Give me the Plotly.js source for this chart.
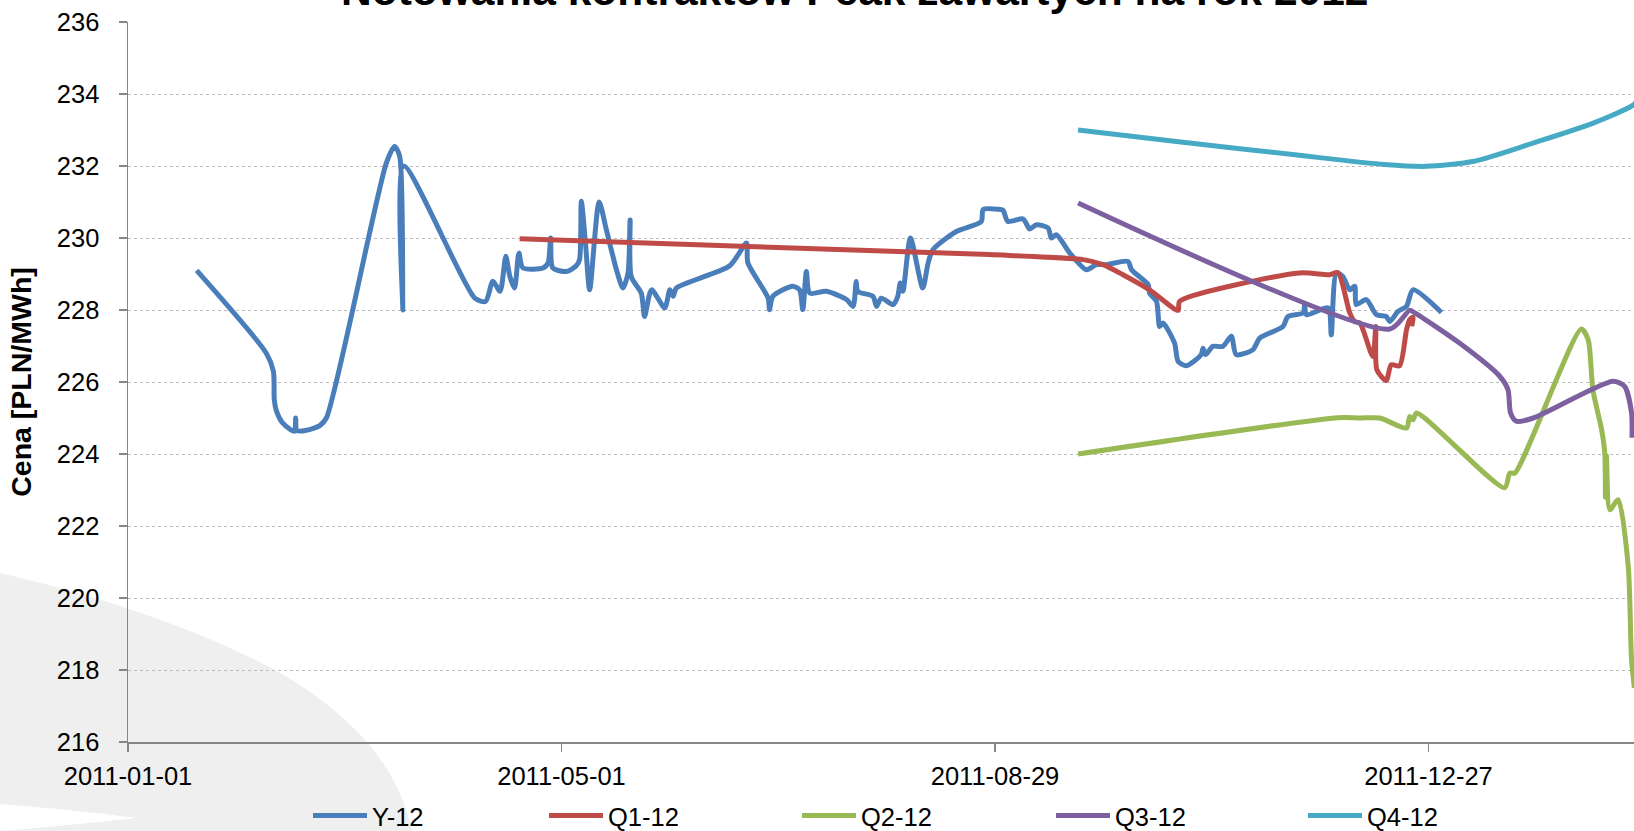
<!DOCTYPE html>
<html>
<head>
<meta charset="utf-8">
<script src="https://cdn.plot.ly/plotly-3.0.1.min.js"></script>
<style>
html,body{margin:0;padding:0;overflow:hidden;background:#ffffff;}
#chart{width:1634px;height:831px;}
</style>
</head>
<body>
<div id="chart"></div>
<script>
// ---------------- DATA ----------------
const chartTitle = 'Notowania kontraktów Peak zawartych na rok 2012';
const yAxisTitle = 'Cena [PLN/MWh]';
const seriesNames = ['Y-12', 'Q1-12', 'Q2-12', 'Q3-12', 'Q4-12'];

const xTickVals = ['2011-01-01', '2011-05-01', '2011-08-29', '2011-12-27'];
const xTickText = ['2011-01-01', '2011-05-01', '2011-08-29', '2011-12-27'];
const yTickVals = [216, 218, 220, 222, 224, 226, 228, 230, 232, 234, 236];

const y12Dates = ['2011-01-20','2011-02-08 07:00','2011-02-10 06:00','2011-02-10 12:00','2011-02-11 02:00','2011-02-12 22:00','2011-02-16 02:00','2011-02-16 10:00','2011-02-16 18:00','2011-02-19 10:00','2011-02-23 02:00','2011-02-24 22:00','2011-03-13 12:00','2011-03-15 19:00','2011-03-17 05:00','2011-03-18 02:00','2011-03-18 07:00','2011-04-07','2011-04-10','2011-04-12','2011-04-14','2011-04-15 14:00','2011-04-16 17:00','2011-04-18','2011-04-19 05:00','2011-04-20 07:00','2011-04-25 22:00','2011-04-27 07:00','2011-04-28','2011-04-28 14:00','2011-05-02 10:00','2011-05-05 02:00','2011-05-06','2011-05-06 12:00','2011-05-07 17:00','2011-05-08 19:00','2011-05-11 10:00','2011-05-13 10:00','2011-05-16 05:00','2011-05-18','2011-05-19 10:00','2011-05-20','2011-05-20 07:00','2011-05-23 02:00','2011-05-24','2011-05-25 22:00','2011-05-29 14:00','2011-05-31','2011-05-31 22:00','2011-06-01 19:00','2011-06-16 14:00','2011-06-21 05:00','2011-06-21 14:00','2011-06-27 05:00','2011-06-27 14:00','2011-06-28 12:00','2011-07-04','2011-07-05 22:00','2011-07-06 19:00','2011-07-07 19:00','2011-07-08 17:00','2011-07-13 07:00','2011-07-18 22:00','2011-07-20 17:00','2011-07-21 14:00','2011-07-22','2011-07-26 05:00','2011-07-27 05:00','2011-07-28 12:00','2011-07-31 19:00','2011-08-02 02:00','2011-08-02 19:00','2011-08-03 12:00','2011-08-05 14:00','2011-08-09','2011-08-10 12:00','2011-08-11 19:00','2011-08-18 07:00','2011-08-25 05:00','2011-08-25 17:00','2011-08-29 19:00','2011-08-31 05:00','2011-09-01 14:00','2011-09-05 19:00','2011-09-07 14:00','2011-09-09 12:00','2011-09-12 17:00','2011-09-13 14:00','2011-09-15','2011-09-18 17:00','2011-09-23 07:00','2011-09-26 02:00','2011-09-28 19:00','2011-10-04 19:00','2011-10-05 19:00','2011-10-10 10:00','2011-10-10 19:00','2011-10-12 17:00','2011-10-13 14:00','2011-10-14 12:00','2011-10-17 17:00','2011-10-18 17:00','2011-10-21','2011-10-25 02:00','2011-10-25 14:00','2011-10-26 07:00','2011-10-28 07:00','2011-10-31 02:00','2011-11-02 10:00','2011-11-03 19:00','2011-11-08 10:00','2011-11-10 07:00','2011-11-16 17:00','2011-11-18 02:00','2011-11-22 07:00','2011-11-22 17:00','2011-11-23 05:00','2011-11-29 05:00','2011-11-30 02:00','2011-12-01 12:00','2011-12-03 07:00','2011-12-05 05:00','2011-12-06 14:00','2011-12-07','2011-12-09 19:00','2011-12-12 14:00','2011-12-15 07:00','2011-12-16 07:00','2011-12-18 14:00','2011-12-20 22:00','2011-12-22 17:00','2011-12-30 14:00'];
const y12Values = [229.1,226.8,226.3,225.5,225.2,224.85,224.63,225.0,224.65,224.66,224.79,225.0,232.08,232.54,232.27,228.0,232.0,228.33,228.24,228.8,228.52,229.49,228.93,228.61,229.58,229.17,229.17,229.31,230.0,229.17,229.07,229.23,229.4,231.02,229.77,228.56,231.0,230.23,229.12,228.61,229.03,230.5,228.93,228.47,227.82,228.56,228.06,228.56,228.38,228.61,229.23,229.86,229.31,228.33,228.01,228.38,228.66,228.56,228.01,229.07,228.47,228.52,228.29,228.1,228.79,228.52,228.38,228.1,228.33,228.15,228.38,228.75,228.52,230.0,228.61,229.31,229.67,230.18,230.46,230.79,230.8,230.77,230.46,230.53,230.25,230.37,230.28,230.0,230.09,229.58,229.12,229.26,229.26,229.35,229.12,228.7,228.47,228.24,227.54,227.64,227.08,226.57,226.45,226.76,226.94,226.76,226.99,226.99,227.27,226.76,226.9,227.22,227.54,227.82,227.92,228.15,227.87,228.06,227.31,229.03,228.93,228.56,228.66,228.15,228.29,227.87,227.82,227.68,227.96,228.1,228.56,227.93];

const q1Dates = ['2011-04-19 10:00','2011-08-27 12:00','2011-09-22 10:00','2011-09-27 22:00','2011-10-03 10:00','2011-10-10 19:00','2011-10-18 17:00','2011-10-19 02:00','2011-11-21 07:00','2011-11-29 14:00','2011-12-01 22:00','2011-12-05 05:00','2011-12-06 14:00','2011-12-08','2011-12-11 14:00','2011-12-12 10:00','2011-12-12 17:00','2011-12-15 07:00','2011-12-16 17:00','2011-12-19','2011-12-20 22:00','2011-12-21 19:00','2011-12-22 17:00','2011-12-22 08:00'];
const q1Values = [229.98,229.54,229.4,229.26,228.98,228.56,227.99,228.24,229.03,228.98,229.04,227.92,227.68,227.64,226.71,227.54,226.34,226.04,226.48,226.45,227.45,227.73,227.8,227.55];

const q2Dates = ['2011-09-21','2011-12-02 02:00','2011-12-08','2011-12-13 12:00','2011-12-20 22:00','2011-12-21 19:00','2011-12-22 17:00','2011-12-23 17:00','2012-01-17 02:00','2012-01-18 12:00','2012-01-19 22:00','2012-02-07 07:00','2012-02-09 05:00','2012-02-10 12:00','2012-02-12 22:00','2012-02-13 19:00','2012-02-14 00:00','2012-02-14 06:00','2012-02-15 05:00','2012-02-17 12:00','2012-02-20 07:00','2012-02-21 05:00','2012-02-22'];
const q2Values = [224.0,225.01,225.0,225.0,224.72,225.04,224.95,225.14,223.06,223.47,223.47,227.47,227.17,225.79,224.68,224.03,222.8,223.95,222.45,222.73,220.88,218.29,217.5];

const q3Dates = ['2011-09-21','2011-12-16 07:00','2011-12-21 19:00','2011-12-23 05:00','2012-01-04 14:00','2012-01-15 17:00','2012-01-18','2012-01-18 17:00','2012-01-20 07:00','2012-01-25','2012-02-16 02:00','2012-02-19 07:00','2012-02-21 05:00','2012-02-21 08:00'];
const q3Values = [230.97,227.47,227.99,227.92,227.08,226.16,225.79,225.14,224.91,225.0,226.02,225.88,225.14,224.45];

const q4Dates = ['2011-09-21','2011-10-18 05:00','2011-11-20 02:00','2011-12-14 19:00','2011-12-26 10:00','2012-01-08 14:00','2012-01-25 02:00','2012-02-10 14:00','2012-02-21 19:00','2012-02-23'];
const q4Values = [233.0,232.68,232.31,232.04,231.99,232.13,232.64,233.19,233.7,233.85];

// ---------------- STYLE ----------------
const seriesColors = ['#4a7ebb', '#be4b48', '#98b954', '#7d60a0', '#46aac5'];
const FONT = 'Liberation Sans, Arial, sans-serif';
const W = 1634, H = 831;
const M = {l: 128, r: 0, t: 22, b: 89, autoexpand: false};
const plotW = W - M.l - M.r, plotH = H - M.t - M.b;
const px2x = px => (px - M.l) / plotW;
const py2y = py => (H - M.b - py) / plotH;

const allDates = [y12Dates, q1Dates, q2Dates, q3Dates, q4Dates];
const allValues = [y12Values, q1Values, q2Values, q3Values, q4Values];
const legendKeys = ['legend', 'legend2', 'legend3', 'legend4', 'legend5'];
const legendLeftPx = [313, 549, 802, 1056, 1308];

const traces = seriesNames.map((name, i) => ({
  type: 'scatter', mode: 'lines', name: name,
  x: allDates[i], y: allValues[i],
  line: {color: seriesColors[i], width: 5, shape: 'spline', smoothing: 0.7},
  legend: legendKeys[i], hoverinfo: 'skip'
}));

// decorative background swoosh (page background, in pixels)
function pathFromPx(cmds) {
  return cmds.map(c => c[0] + ' ' + c.slice(1).map((v, k) => (k % 2 === 0 ? px2x(v) : py2y(v)).toFixed(5)).join(',')).join(' ') + ' Z';
}
const swoosh = pathFromPx([
  ['M', 0, 573], ['C', 110, 598, 230, 640, 300, 685], ['C', 365, 728, 400, 775, 412, 831], ['L', 0, 831]
]);
const band = pathFromPx([
  ['M', 0, 804], ['C', 50, 808, 100, 813, 136, 818], ['C', 100, 822, 50, 827, 0, 831]
]);

const layout = {
  width: W, height: H,
  margin: M,
  paper_bgcolor: 'rgba(0,0,0,0)',
  plot_bgcolor: 'rgba(0,0,0,0)',
  font: {family: FONT, size: 25.5, color: '#000000'},
  showlegend: true,
  xaxis: {
    type: 'date',
    range: ['2011-01-01', '2012-02-21 21:20'],
    tickmode: 'array', tickvals: xTickVals, ticktext: xTickText,
    showgrid: false, zeroline: false,
    showline: true, linecolor: '#868686', linewidth: 2,
    ticks: 'outside', ticklen: 8, tickwidth: 1.5, tickcolor: '#868686',
    ticklabelstandoff: 2,
    tickfont: {family: FONT, size: 25.5, color: '#000000'},
    fixedrange: true
  },
  yaxis: {
    range: [216, 236],
    tickmode: 'array', tickvals: yTickVals,
    showgrid: true, gridcolor: '#bdbdbd', gridwidth: 1, griddash: 'dot',
    zeroline: false,
    showline: true, linecolor: '#868686', linewidth: 1.5,
    ticks: 'outside', ticklen: 8, tickwidth: 1.5, tickcolor: '#868686',
    ticklabelstandoff: 14,
    tickfont: {family: FONT, size: 25.5, color: '#000000'},
    title: {text: yAxisTitle, font: {family: FONT, size: 28.5, color: '#000000', weight: 'bold'}, standoff: 17},
    fixedrange: true
  },
  annotations: [{
    text: chartTitle, showarrow: false,
    xref: 'paper', yref: 'paper', x: px2x(854), y: py2y(-9.7),
    xanchor: 'center', yanchor: 'middle',
    font: {family: FONT, size: 42.5, color: '#000000', weight: 'bold'}
  }],
  shapes: [
    {type: 'path', xref: 'paper', yref: 'paper', path: swoosh, fillcolor: '#efefef', line: {width: 0}, layer: 'below'},
    {type: 'path', xref: 'paper', yref: 'paper', path: band, fillcolor: '#ffffff', line: {width: 0}, layer: 'below'}
  ]
};

legendKeys.forEach((k, i) => {
  layout[k] = {
    orientation: 'h', x: px2x(legendLeftPx[i] - 5), y: py2y(816),
    xanchor: 'left', yanchor: 'middle',
    bgcolor: 'rgba(0,0,0,0)', borderwidth: 0,
    itemwidth: 54, itemclick: false, itemdoubleclick: false,
    font: {family: FONT, size: 25.5, color: '#000000'}
  };
});

Plotly.newPlot('chart', traces, layout, {staticPlot: true, displayModeBar: false});
</script>
</body>
</html>
